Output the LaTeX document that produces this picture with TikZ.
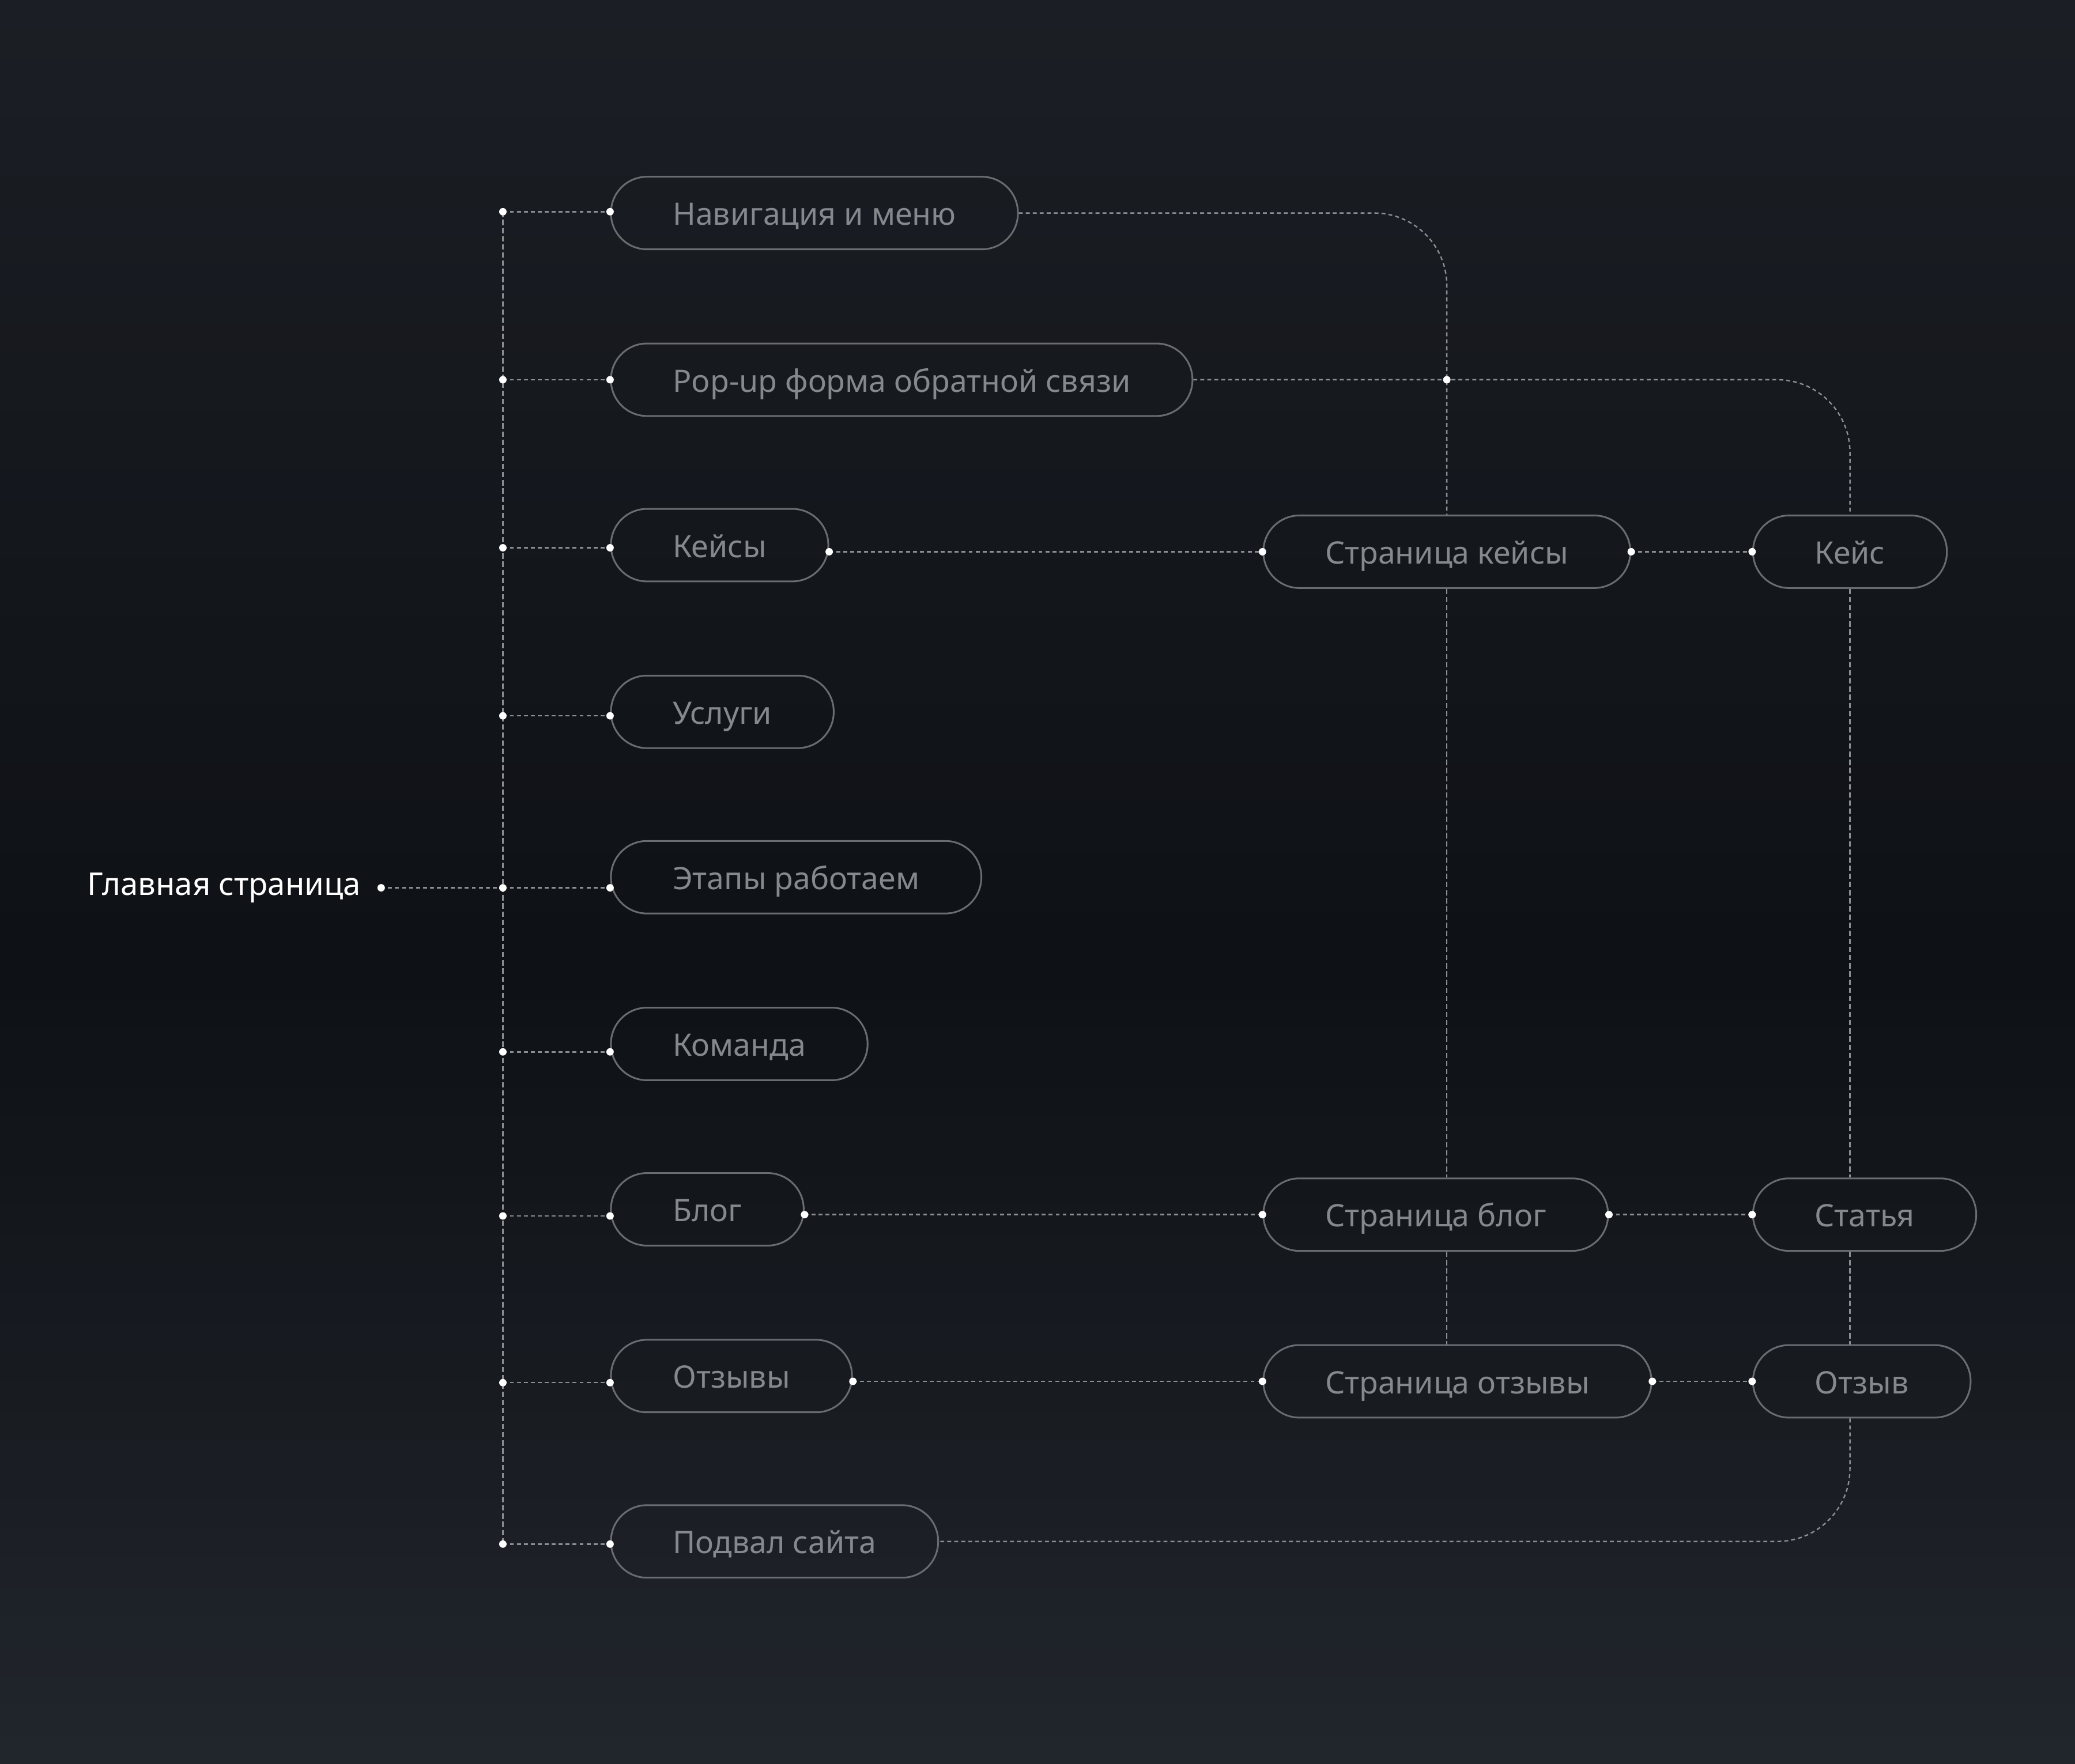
\documentclass[tikz,border=0pt]{standalone}
\usepackage{fontspec}
\setmainfont{Noto Sans}
\usepackage{tikz}
\usetikzlibrary{positioning,calc}

\definecolor{bgtop}{HTML}{1B1E24}
\definecolor{bgmid}{HTML}{0E1115}
\definecolor{bgbot}{HTML}{21252C}
\definecolor{pillline}{HTML}{696C71}
\definecolor{pilltext}{HTML}{85888D}
\definecolor{linkline}{HTML}{8A8D92}

\tikzset{
  pill/.style={draw=pillline, line width=0.75pt, rounded corners=15.5pt,
    minimum height=31.2pt, inner xsep=26.6pt, inner ysep=0pt,
    text height=12pt, text depth=1.5pt,
    text=pilltext, font=\fontsize{13.3}{16}\selectfont},
  link/.style={draw=linkline, line width=0.6pt, dash pattern=on 1.7pt off 1.3pt},
  trunk/.style={draw=linkline, line width=0.6pt, dash pattern=on 2.3pt off 1.2pt},
  pin/.style={fill=white},
}

\begin{document}
\begin{tikzpicture}[x=0.02cm, y=-0.02cm]
% background, in strips
\useasboundingbox (0,0) rectangle (1568,1333);
\foreach \i in {0,...,32}{
  \pgfmathtruncatemacro\p{round(\i*100/32)}
  \fill[bgmid!\p!bgtop] (0,\i*22.22) rectangle (1568,\i*22.22+23);
}
\foreach \i in {33,...,59}{
  \pgfmathtruncatemacro\p{round((\i-33)*100/26)}
  \fill[bgbot!\p!bgmid] (0,\i*22.22) rectangle (1568,\i*22.22+23);
}

% main page
\node[anchor=east, inner sep=0pt, text=white, font=\fontsize{13.5}{16}\selectfont] at (273,671)(home){Главная страница};
\coordinate (hub) at (288,671);

% sections of the main page
\node[pill, anchor=west] at (461,161)(nav){Навигация и меню};
\node[pill, anchor=west] at (461,287)(popup){Pop-up форма обратной связи};
\node[pill, anchor=west] at (461,412)(cases){Кейсы};
\node[pill, anchor=west] at (461,538)(services){Услуги};
\node[pill, anchor=west] at (461,663)(stages){Этапы работаем};
\node[pill, anchor=west] at (461,789)(team){Команда};
\node[pill, anchor=west] at (461,914)(blog){Блог};
\node[pill, anchor=west] at (461,1040)(reviews){Отзывы};
\node[pill, anchor=west] at (461,1165)(footer){Подвал сайта};

% inner pages
\node[pill, anchor=west] at (954,417)(casespage){Страница кейсы};
\node[pill, anchor=west] at (954,918)(blogpage){Страница блог};
\node[pill, anchor=west] at (954,1044)(reviewspage){Страница отзывы};

\node[pill, anchor=west] at (1324,417)(case){Кейс};
\node[pill, anchor=west] at (1324,918)(article){Статья};
\node[pill, anchor=west] at (1324,1044)(review){Отзыв};

% trunk
\foreach \n/\y in {nav/160,popup/287,cases/414,services/541,stages/671,team/795,blog/919,reviews/1045,footer/1167}
  \coordinate (t-\n) at (380,\y);
\draw[trunk] (t-nav) -- (t-footer);
\draw[link] (hub) -- (t-stages);
\fill[pin] (hub) circle (1.6pt);
\foreach \n in {nav,popup,cases,services,stages,team,blog,reviews,footer}{
  \draw[link] (t-\n) -- (t-\n -| \n.west);
  \fill[pin] (t-\n) circle (1.6pt) (t-\n -| \n.west) circle (1.6pt);
}

% long links
\draw[link, rounded corners=1.1cm] (nav.east) -| (casespage.north);
\draw[trunk] (casespage.south) -- (casespage.south |- blogpage.north);
\draw[trunk] (casespage.south |- blogpage.south) -- (casespage.south |- reviewspage.north);

\draw[link, rounded corners=1.1cm] (popup.east) -| (case.north);
\coordinate (cross) at (casespage.north |- popup.east);
\fill[pin] (cross) circle (1.6pt);
\draw[trunk] (case.south) -- (case.south |- article.north);
\draw[trunk] (case.south |- article.south) -- (case.south |- review.north);
\draw[link, rounded corners=1.1cm] (case.south |- review.south) |- (footer.east);

% pages
\foreach \a/\b in {cases/casespage,blog/blogpage,reviews/reviewspage,casespage/case,blogpage/article,reviewspage/review}{
  \draw[link] (\a.east |- \b.west) -- (\b.west);
  \fill[pin] (\a.east |- \b.west) circle (1.6pt) (\b.west) circle (1.6pt);
}
\end{tikzpicture}
\end{document}
